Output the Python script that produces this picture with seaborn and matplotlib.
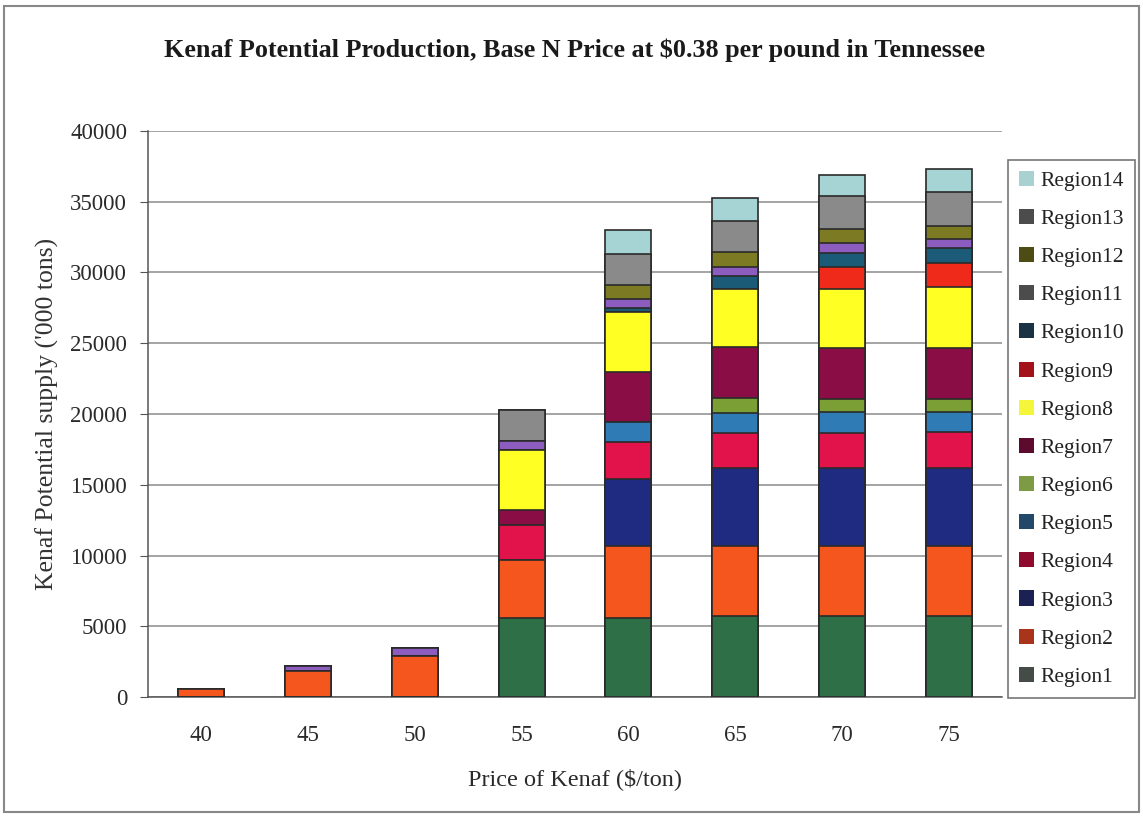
import numpy as np
import pandas as pd
import seaborn as sns
import matplotlib.pyplot as plt
from matplotlib.patches import Patch, Rectangle

sns.set_style("white")
plt.rcParams["font.family"] = ["Liberation Serif", "DejaVu Serif"]

# data ('000 tons per region, by kenaf price)
prices = ["40", "45", "50", "55", "60", "65", "70", "75"]
region1 = [0, 0, 0, 5550, 5550, 5700, 5700, 5700]
region2 = [600, 1840, 2900, 4140, 5100, 4950, 4950, 4950]
region3 = [0, 0, 0, 0, 4770, 5500, 5500, 5500]
region4 = [0, 0, 0, 2470, 2630, 2490, 2490, 2610]
region5 = [0, 0, 0, 0, 1410, 1420, 1490, 1370]
region6 = [0, 0, 0, 0, 0, 1060, 940, 940]
region7 = [0, 0, 0, 1060, 3540, 3580, 3580, 3580]
region8 = [0, 0, 0, 4240, 4200, 4120, 4170, 4310]
region9 = [0, 0, 0, 0, 0, 0, 1600, 1740]
region10 = [0, 0, 0, 0, 280, 900, 990, 1020]
region11 = [0, 360, 560, 660, 680, 660, 670, 640]
region12 = [0, 0, 0, 0, 970, 1100, 1010, 940]
region13 = [0, 0, 0, 2170, 2170, 2170, 2330, 2380]
region14 = [0, 0, 0, 0, 1670, 1610, 1480, 1620]

names = ["Region%d" % i for i in range(1, 15)]
df = pd.DataFrame({"price": prices})
for n, v in zip(names, [region1, region2, region3, region4, region5, region6, region7,
                        region8, region9, region10, region11, region12, region13, region14]):
    df[n] = v
cum = df[names].cumsum(axis=1)

bar_colors = ["#2e6f47", "#f4561e", "#1f2b80", "#e2134b", "#2f7bb6", "#7b9f35", "#8b0d46",
              "#ffff24", "#ef2a1b", "#1b5b78", "#8c5cbe", "#7c7a22", "#8a8a8a", "#a6d3d3"]
legend_colors = ["#454c48", "#a8341c", "#1b2152", "#8e0b2d", "#23496a", "#7d9a45", "#5c0b2e",
                 "#f5f53a", "#a3121b", "#1a3244", "#4c4c4c", "#4d4c14", "#4c4c4c", "#a9d1d1"]

fig = plt.figure(figsize=(11.43, 8.17), dpi=100)
ax = fig.add_axes([148 / 1143, 1 - 697 / 817, (1002 - 148) / 1143, (697 - 131) / 817])

# stacked bars: draw cumulative totals from the top region down
for i in range(13, -1, -1):
    sns.barplot(x=df["price"], y=cum[names[i]], color=bar_colors[i], saturation=1,
                width=0.43, edgecolor="#2a2a2a", linewidth=1.2, ax=ax, zorder=3)

ax.set_ylim(0, 40000)
ax.set_xlim(-0.5, 7.5)
ax.set_yticks(np.arange(0, 40001, 5000))
ax.yaxis.grid(True, color="#8c8c8c", linewidth=1.1)
ax.set_axisbelow(True)
for s in ["top", "right"]:
    ax.spines[s].set_visible(False)
for s in ["left", "bottom"]:
    ax.spines[s].set_color("#555555")
    ax.spines[s].set_linewidth(1.1)

ax.set_xticks(np.arange(-0.5, 8, 1), minor=True)
ax.tick_params(axis="x", which="major", length=0, pad=20, labelsize=16.5, labelcolor="#2a2a2a")
ax.tick_params(axis="x", which="minor", length=7, direction="out", color="#555555")
ax.tick_params(axis="y", length=6, direction="out", color="#555555", pad=9,
               labelsize=16.5, labelcolor="#2a2a2a", left=True)

ax.set_xlabel("Price of Kenaf ($/ton)", fontsize=17.5, color="#2a2a2a", labelpad=16)
ax.set_ylabel("Kenaf Potential supply ('000 tons)", fontsize=18.5, color="#333333", labelpad=8)
fig.text(575 / 1143, 1 - 50 / 817, "Kenaf Potential Production, Base N Price at $0.38 per pound in Tennessee",
         ha="center", va="center", fontsize=18.8, fontweight="bold", color="#1a1a1a")

handles = [Patch(facecolor=c, edgecolor="none") for c in legend_colors][::-1]
leg = fig.legend(handles, names[::-1], loc="upper left", bbox_to_anchor=(1008 / 1143, 1 - 160 / 817),
                 frameon=True, fancybox=False, fontsize=15.5, handlelength=0.7, handleheight=0.7,
                 handletextpad=0.3, labelspacing=0.84, borderpad=0.5, borderaxespad=0)
leg.get_frame().set_edgecolor("#555555")
leg.get_frame().set_linewidth(1.2)
for t in leg.get_texts():
    t.set_color("#222222")

fig.add_artist(Rectangle((4 / 1143, 5 / 817), 1 - 8 / 1143, 1 - 11 / 817, transform=fig.transFigure,
                         fill=False, edgecolor="#888888", linewidth=1.5))

fig.savefig("out.png", dpi=100)
